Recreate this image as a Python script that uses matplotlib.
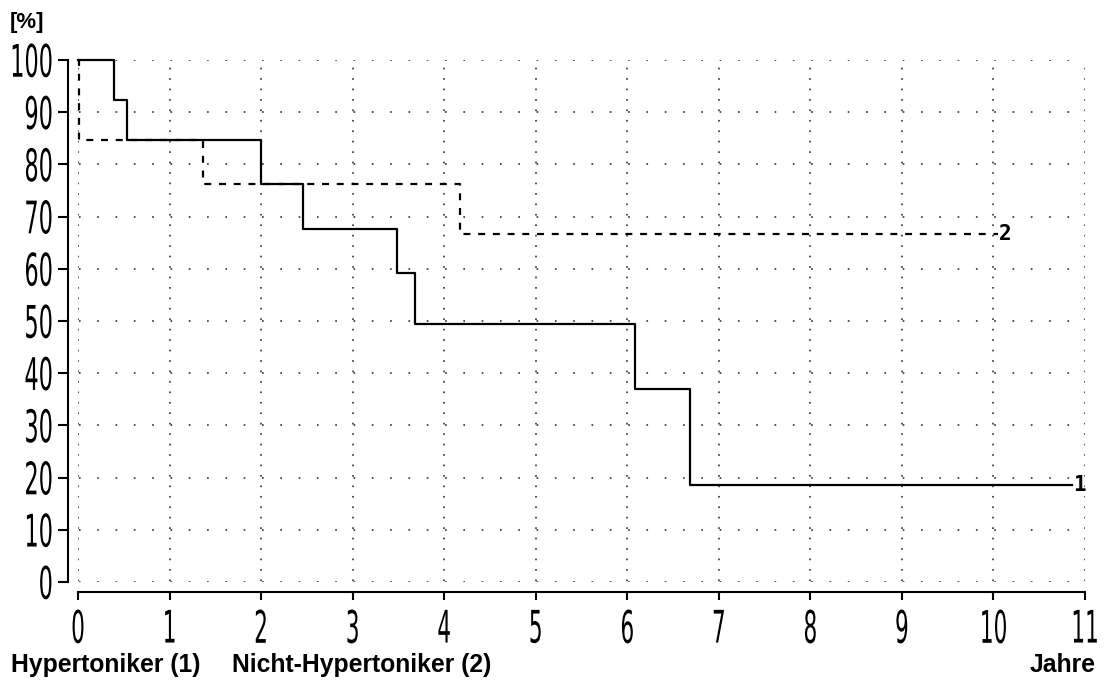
import numpy as np
import matplotlib
matplotlib.use("Agg")
import matplotlib.pyplot as plt
from matplotlib.patheffects import AbstractPathEffect
from matplotlib.transforms import Affine2D

plt.rcParams['lines.scale_dashes'] = False

# Kaplan-Meier steps
t_hyp = [0, 0.39, 0.54, 2.0, 2.46, 3.48, 3.68, 6.08, 6.69, 10.86]
s_hyp = [100, 92.3, 84.6, 76.2, 67.7, 59.2, 49.4, 37.0, 18.5, 18.5]
t_non = [0, 0.01, 1.37, 4.17, 10.05]
s_non = [100, 84.6, 76.2, 66.7, 66.7]

xticks = list(range(0, 12))
yticks = list(range(0, 101, 10))


class Stretch(AbstractPathEffect):
    # tall narrow digits like the original, the label stays a Text artist
    def __init__(self, sx, sy, ax_, ay_):
        super().__init__()
        self.sx, self.sy = sx, sy
        self.ax_, self.ay_ = ax_, ay_

    def draw_path(self, renderer, gc, tpath, affine, rgbFace=None):
        ext = tpath.get_extents()
        x0 = ext.x0 + self.ax_ * ext.width
        y0 = ext.y0 + self.ay_ * ext.height
        tr = Affine2D().translate(-x0, -y0).scale(self.sx, self.sy).translate(x0, y0) + affine
        renderer.draw_path(gc, tpath, tr, rgbFace)


W, H = 1107, 684
fig = plt.figure(figsize=(W / 100, H / 100), dpi=100)
ax = fig.add_axes([78 / W, 102 / H, 1007 / W, 522 / H])

ax.step(t_hyp, s_hyp, where='post', color='black', lw=1.6, clip_on=False, zorder=3)
ax.step(t_non, s_non, where='post', color='black', lw=1.6, clip_on=False, zorder=3,
        linestyle=(0, (5, 5.6)))

lab_font = dict(family='DejaVu Sans Mono', weight='bold', fontsize=15)
ax.text(t_hyp[-1] + 0.01, s_hyp[-1], '1', ha='left', va='center', **lab_font)
ax.text(t_non[-1] + 0.01, s_non[-1], '2', ha='left', va='center', **lab_font)

ax.set_xlim(0, 11)
ax.set_ylim(0, 100)
ax.set_xticks(xticks)
ax.set_yticks(yticks)

# dotted grid
ax.grid(True, axis='y', color='#404040', lw=1.3, linestyle=(12.5, (1.2, 11.98)))
ax.grid(True, axis='x', color='#404040', lw=1.3, linestyle=(6.9, (1.2, 6.32)))
for gl in ax.get_xgridlines() + ax.get_ygridlines():
    gl.set_clip_on(False)

for side in ['top', 'right']:
    ax.spines[side].set_visible(False)
for side in ['left', 'bottom']:
    ax.spines[side].set_position(('outward', 7.2))
    ax.spines[side].set_linewidth(1.5)

ax.tick_params(axis='y', direction='out', length=7.2, width=1.5, pad=3.5, labelsize=19)
ax.tick_params(axis='x', direction='out', length=5.8, width=1.5, pad=6.5, labelsize=19)
for lab in ax.get_xticklabels():
    lab.set_path_effects([Stretch(0.82, 1.7, 0.5, 1.0)])
for lab in ax.get_yticklabels():
    lab.set_path_effects([Stretch(0.85, 1.7, 1.0, 0.5)])

txt = dict(family=['Liberation Sans', 'DejaVu Sans'], weight='bold', fontsize=17.8)
fig.text(11 / W, 1 - 672 / H, 'Hypertoniker (1)', ha='left', va='baseline', **txt)
fig.text(232 / W, 1 - 672 / H, 'Nicht-Hypertoniker (2)', ha='left', va='baseline', **txt)
fig.text(1096 / W, 1 - 672 / H, 'Jahre', ha='right', va='baseline', **txt)
fig.text(9.5 / W, 1 - 28 / H, '[%]', ha='left', va='baseline',
         family=['Liberation Sans', 'DejaVu Sans'], weight='bold', fontsize=16)

fig.savefig('out.png', dpi=100)
